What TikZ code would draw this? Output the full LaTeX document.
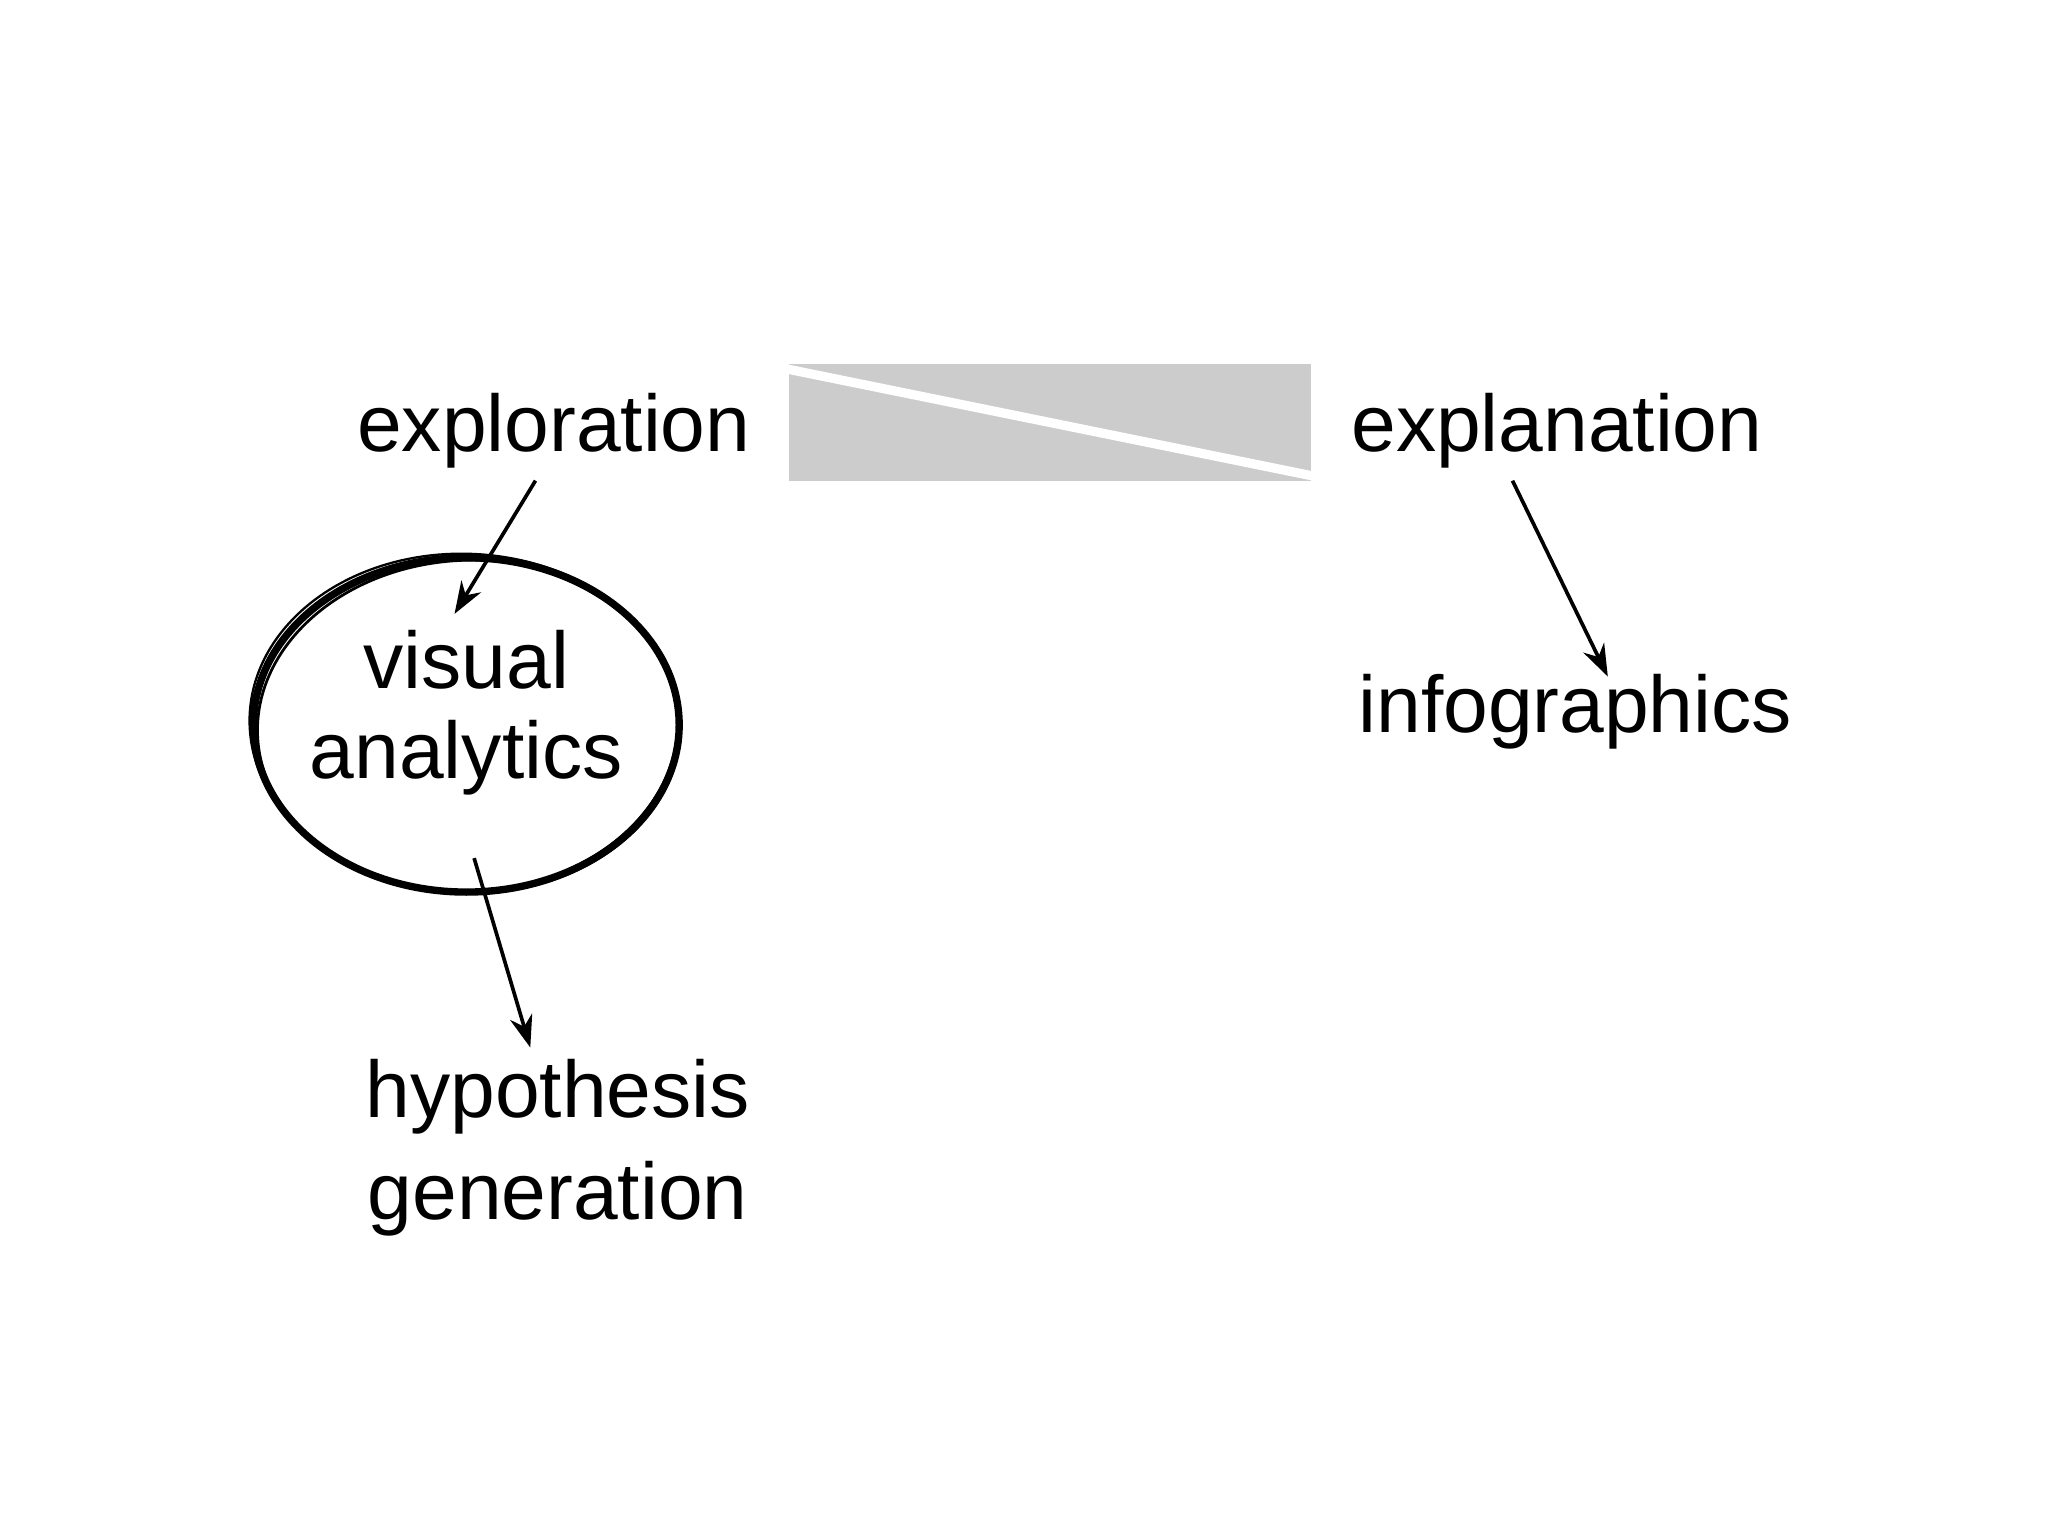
\documentclass[tikz,border=0pt]{standalone}
\usepackage{fontspec}
\setmainfont{Liberation Sans}
\usetikzlibrary{arrows.meta}
\begin{document}
\begin{tikzpicture}[x=0.01cm,y=-0.01cm,
  lbl/.style={font=\fontsize{17.5}{21}\selectfont, inner sep=0pt, anchor=center},
  arr/.style={-{Stealth[length=7pt,width=5pt]}, line width=0.8pt}]
\useasboundingbox (0,0) rectangle (1568,1176);
\fill[gray!40] (604,279) rectangle (1004,368);
\draw[white, line width=2pt] (600,282) -- (1008,365);
\node[lbl] (expl) at (424,330) {exploration};
\node[lbl] (expn) at (1192,330) {explanation};
\node[lbl] (vis) at (357,505) {visual};
\node[lbl] (ana) at (357,580) {analytics};
\node[lbl] (hyp) at (427,840) {hypothesis};
\node[lbl] (gen) at (427,918) {generation};
\node[lbl] (info) at (1206,545) {infographics};
\coordinate (a1) at (410,368); \coordinate (a2) at (348,470);
\coordinate (b1) at (363,657); \coordinate (b2) at (406,802);
\coordinate (c1) at (1158,368); \coordinate (c2) at (1231,518);
\draw[arr] (a1) -- (a2);
\draw[arr] (b1) -- (b2);
\draw[arr] (c1) -- (c2);
\draw[line width=1.6pt] (357,555) ellipse [x radius=163, y radius=128];
\draw[line width=0.6pt, rotate around={3:(357,555)}] (358,556) ellipse [x radius=161, y radius=127];
\draw[line width=0.5pt, rotate around={-2:(357,555)}] (356,554) ellipse [x radius=165, y radius=130];
\end{tikzpicture}
\end{document}
